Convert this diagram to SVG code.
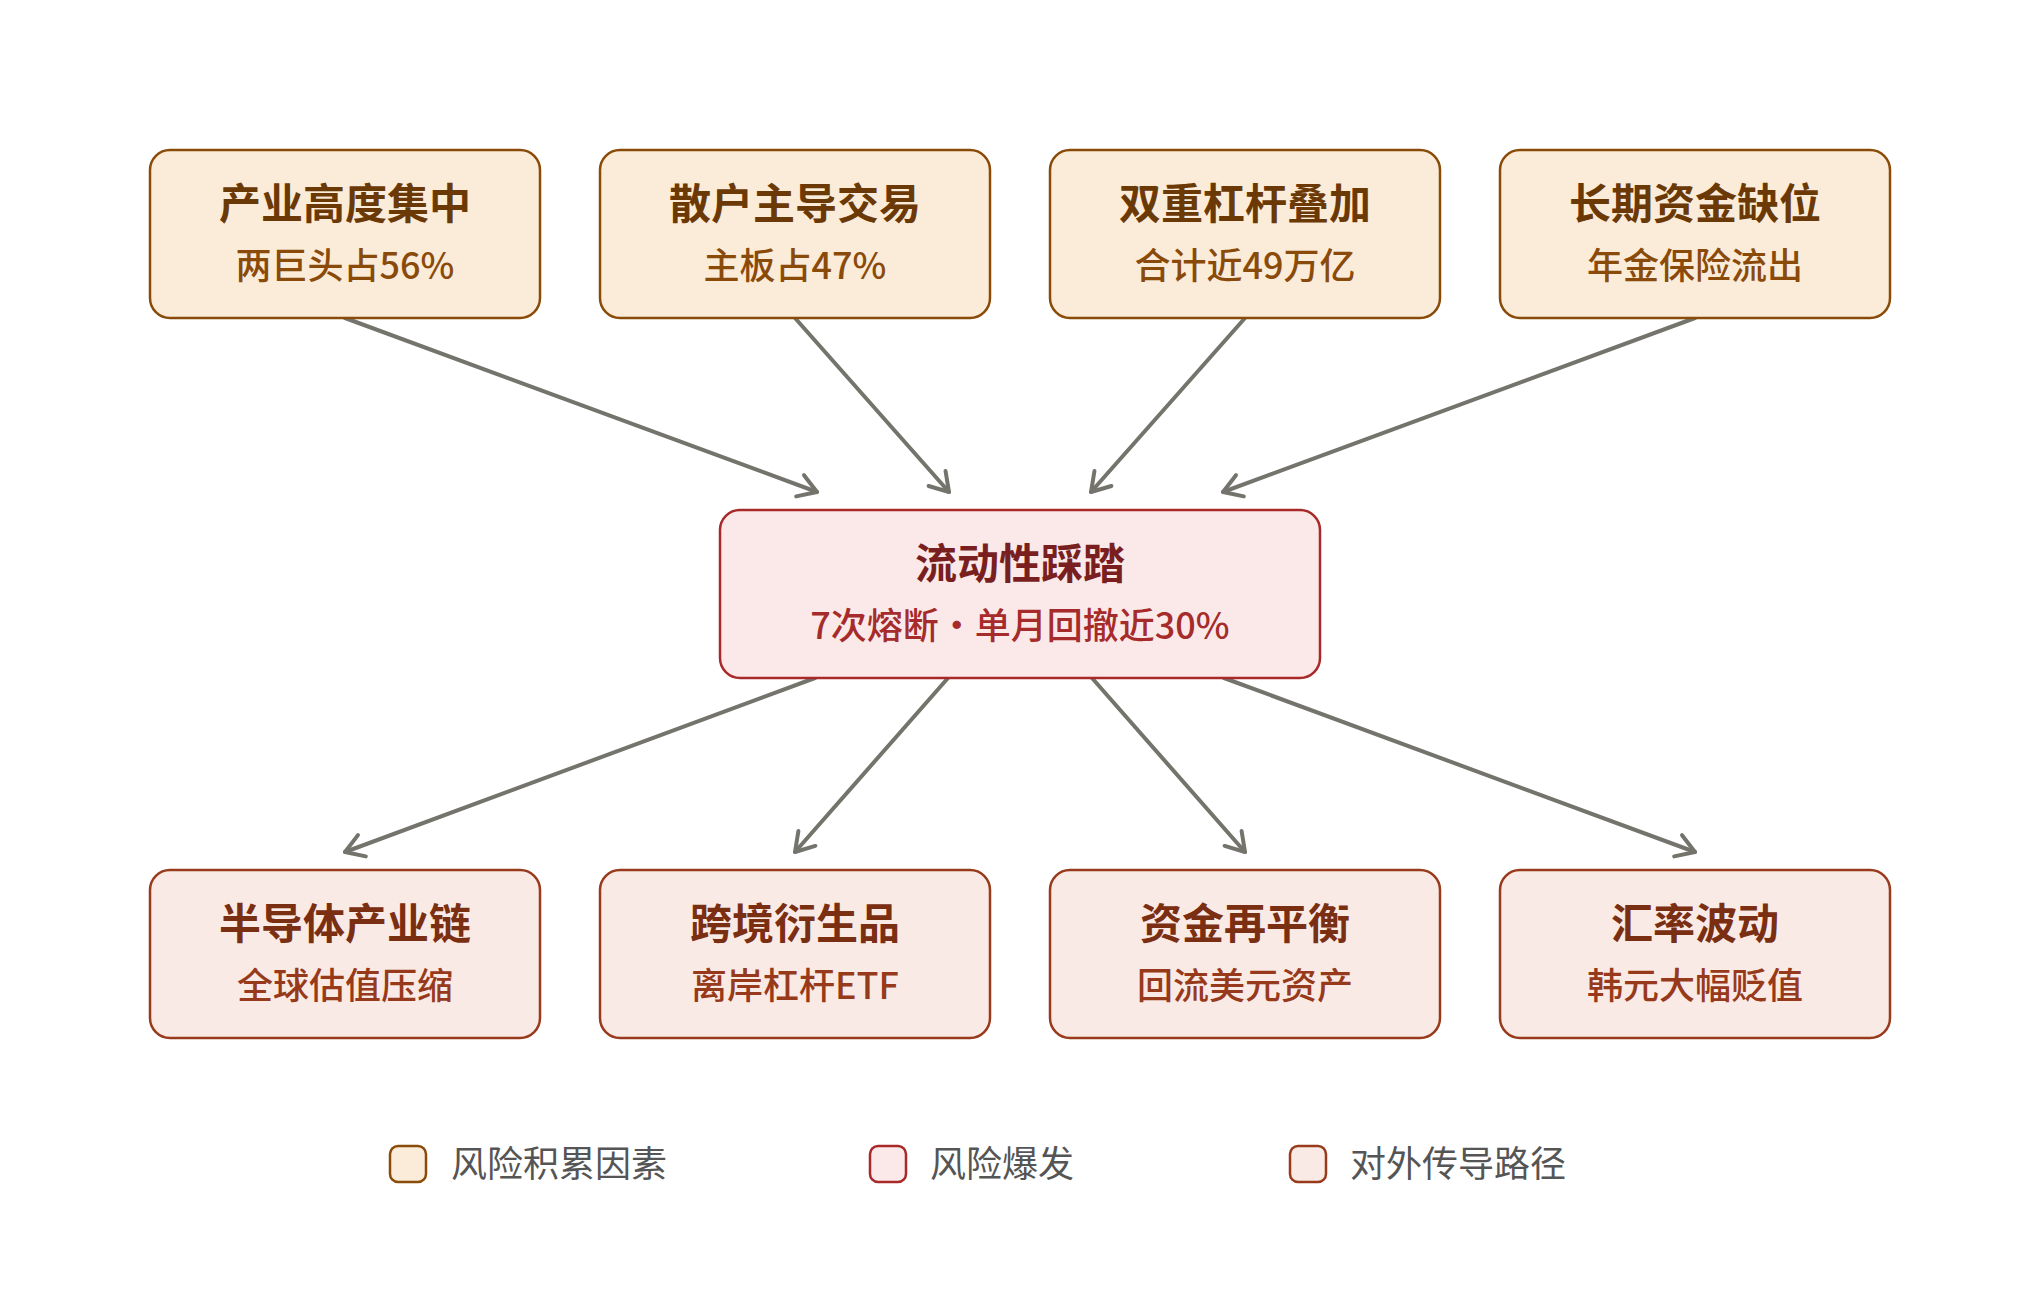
<svg xmlns="http://www.w3.org/2000/svg" width="2040" height="1290" viewBox="0 0 2040 1290">
<style>
text{font-family:"Noto Sans CJK SC","Noto Sans",sans-serif;text-anchor:middle}
.t{font-size:42px;font-weight:700}
.s{font-size:36px;font-weight:500}
.acc rect{fill:#fbecd9;stroke:#8a4b08;stroke-width:2.5}
.acc .t{fill:#6b3906}.acc .s{fill:#8a4a0a}
.bur rect{fill:#fbe9e9;stroke:#a8292a;stroke-width:2.5}
.bur .t{fill:#7a1f1f}.bur .s{fill:#a62b2b}
.tra rect{fill:#faeae5;stroke:#983a1c;stroke-width:2.5}
.tra .t{fill:#7a2e12}.tra .s{fill:#973a1b}
.edge{fill:none;stroke:#74746c;stroke-width:4;stroke-linecap:round;marker-end:url(#arr)}
.lg{font-size:36px;font-weight:400;fill:#555;text-anchor:start}
</style>
<defs>
<marker id="arr" markerUnits="userSpaceOnUse" viewBox="-22 -14 26 28" markerWidth="26" markerHeight="28" refX="0" refY="0" orient="auto">
<path d="M-18,-11.3 L0,0 L-18,11.3" fill="none" stroke="#74746c" stroke-width="4" stroke-linecap="round" stroke-linejoin="round"/>
</marker>
</defs>
<rect width="2040" height="1290" fill="#fff"/>
<g id="connectors">
<line class="edge" x1="345" y1="318" x2="817" y2="492"/>
<line class="edge" x1="795" y1="318" x2="949" y2="492"/>
<line class="edge" x1="1245" y1="318" x2="1091" y2="492"/>
<line class="edge" x1="1695" y1="318" x2="1223" y2="492"/>
<line class="edge" x1="815" y1="678" x2="345" y2="852"/>
<line class="edge" x1="948" y1="678" x2="795" y2="852"/>
<line class="edge" x1="1092" y1="678" x2="1245" y2="852"/>
<line class="edge" x1="1224" y1="678" x2="1695" y2="852"/>
</g>
<g id="n1" class="acc"><rect x="150" y="150" width="390" height="168" rx="20"/><text class="t" x="345" y="219">产业高度集中</text><text class="s" x="345" y="279">两巨头占56%</text></g>
<g id="n2" class="acc"><rect x="600" y="150" width="390" height="168" rx="20"/><text class="t" x="795" y="219">散户主导交易</text><text class="s" x="795" y="279">主板占47%</text></g>
<g id="n3" class="acc"><rect x="1050" y="150" width="390" height="168" rx="20"/><text class="t" x="1245" y="219">双重杠杆叠加</text><text class="s" x="1245" y="279">合计近49万亿</text></g>
<g id="n4" class="acc"><rect x="1500" y="150" width="390" height="168" rx="20"/><text class="t" x="1695" y="219">长期资金缺位</text><text class="s" x="1695" y="279">年金保险流出</text></g>
<g id="center" class="bur"><rect x="720" y="510" width="600" height="168" rx="20"/><text class="t" x="1020" y="579">流动性踩踏</text><text class="s" x="1020" y="639">7次熔断·单月回撤近30%</text></g>
<g id="b1" class="tra"><rect x="150" y="870" width="390" height="168" rx="20"/><text class="t" x="345" y="939">半导体产业链</text><text class="s" x="345" y="999">全球估值压缩</text></g>
<g id="b2" class="tra"><rect x="600" y="870" width="390" height="168" rx="20"/><text class="t" x="795" y="939">跨境衍生品</text><text class="s" x="795" y="999">离岸杠杆ETF</text></g>
<g id="b3" class="tra"><rect x="1050" y="870" width="390" height="168" rx="20"/><text class="t" x="1245" y="939">资金再平衡</text><text class="s" x="1245" y="999">回流美元资产</text></g>
<g id="b4" class="tra"><rect x="1500" y="870" width="390" height="168" rx="20"/><text class="t" x="1695" y="939">汇率波动</text><text class="s" x="1695" y="999">韩元大幅贬值</text></g>
<g id="legend">
<g class="acc"><rect x="390" y="1146" width="36" height="36" rx="8"/></g>
<text class="lg" x="451" y="1177">风险积累因素</text>
<g class="bur"><rect x="870" y="1146" width="36" height="36" rx="8"/></g>
<text class="lg" x="930" y="1177">风险爆发</text>
<g class="tra"><rect x="1290" y="1146" width="36" height="36" rx="8"/></g>
<text class="lg" x="1350" y="1177">对外传导路径</text>
</g>
</svg>
